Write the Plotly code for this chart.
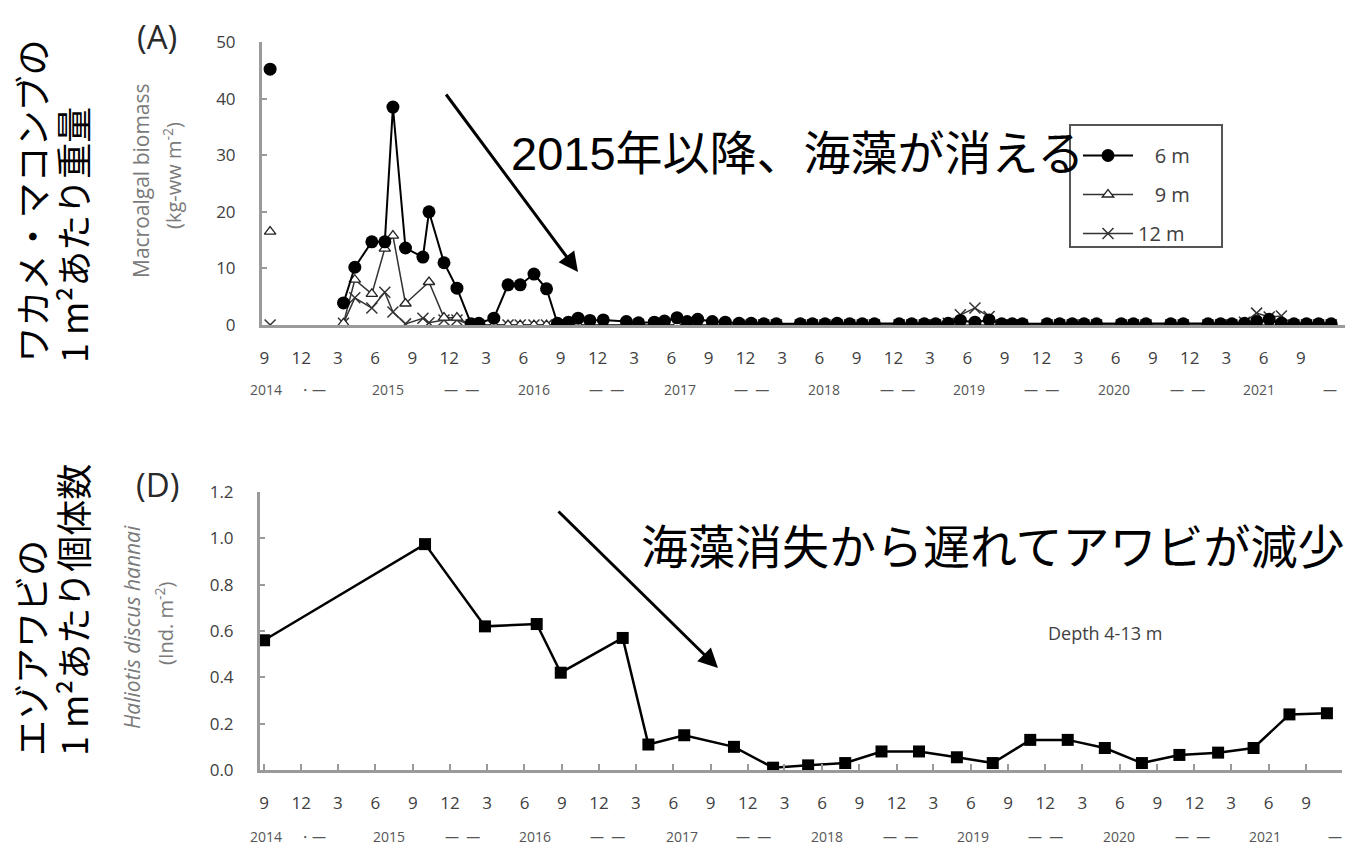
import pandas as pd
import plotly.graph_objects as go

# ---------------- (A) macroalgal biomass by depth ----------------
# first survey (Sep 2014), drawn unconnected to the later series
A_FIRST_DATE = ["2014-09-15"]
A_FIRST_6M = [45.2]
A_FIRST_9M = [16.5]
A_FIRST_12M = [0.0]

A_DATES = [
    "2015-03-15", "2015-04-12", "2015-05-24", "2015-06-25", "2015-07-15",
    "2015-08-15", "2015-09-27", "2015-10-12", "2015-11-18", "2015-12-20",
    "2016-01-24", "2016-02-12", "2016-03-20", "2016-04-24", "2016-05-24",
    "2016-06-27", "2016-07-28", "2016-08-24", "2016-09-20", "2016-10-14",
    "2016-11-12", "2016-12-15", "2017-02-10", "2017-03-12", "2017-04-20",
    "2017-05-15", "2017-06-15", "2017-07-10", "2017-08-05", "2017-09-10",
    "2017-10-12", "2017-11-15", "2017-12-15", "2018-01-15", "2018-02-15",
    "2018-04-15", "2018-05-15", "2018-06-15", "2018-07-15", "2018-08-15",
    "2018-09-15", "2018-10-15", "2018-12-15", "2019-01-15", "2019-02-15",
    "2019-03-15", "2019-04-15", "2019-05-15", "2019-06-20", "2019-07-25",
    "2019-08-25", "2019-09-20", "2019-10-15", "2019-12-15", "2020-01-15",
    "2020-02-15", "2020-03-15", "2020-04-15", "2020-06-15", "2020-07-15",
    "2020-08-15", "2020-10-15", "2020-11-15", "2021-01-15", "2021-02-15",
    "2021-03-15", "2021-04-15", "2021-05-15", "2021-06-15", "2021-07-15",
    "2021-08-15", "2021-09-15", "2021-10-15", "2021-11-15",
]
A_6M = [
    3.9, 10.2, 14.7, 14.7, 38.5,
    13.6, 12.0, 20.0, 11.0, 6.5,
    0.2, 0.3, 1.2, 7.1, 7.1,
    9.0, 6.4, 0.3, 0.5, 1.2,
    0.8, 0.9, 0.6, 0.4, 0.5,
    0.7, 1.3, 0.6, 1.0, 0.6,
    0.5, 0.3, 0.3, 0.2, 0.2,
    0.2, 0.2, 0.2, 0.3, 0.2,
    0.2, 0.2, 0.2, 0.2, 0.2,
    0.2, 0.3, 0.8, 0.5, 0.9,
    0.2, 0.2, 0.2, 0.2, 0.2,
    0.2, 0.2, 0.2, 0.2, 0.2,
    0.2, 0.2, 0.2, 0.2, 0.2,
    0.2, 0.3, 0.6, 1.0, 0.3,
    0.2, 0.2, 0.2, 0.2,
]
A_9M = [
    0.3, 8.0, 5.5, 13.5, 15.8,
    3.8, None, 7.6, 1.3, 1.3,
    0.0, 0.0, 0.0, 0.0, 0.0,
    0.0, 0.0, 0.0, 0.0, 0.0,
    0.0, 0.0, 0.0, 0.0, 0.0,
    0.0, 0.0, 0.0, 0.0, 0.0,
    0.0, 0.0, 0.0, 0.0, 0.0,
    0.0, 0.0, 0.0, 0.0, 0.0,
    0.0, 0.0, 0.0, 0.0, 0.0,
    0.0, 0.0, 0.0, 0.0, 0.0,
    0.0, 0.0, 0.0, 0.0, 0.0,
    0.0, 0.0, 0.0, 0.0, 0.0,
    0.0, 0.0, 0.0, 0.0, 0.0,
    0.0, 0.0, 0.0, 0.0, 0.0,
    0.0, 0.0, 0.0, 0.0,
]
A_12M = [
    0.3, 4.8, 3.0, 5.8, 2.3,
    0.2, 1.2, 0.4, 0.9, 0.9,
    0.0, 0.0, 0.0, 0.0, 0.0,
    0.0, 0.0, 0.0, 0.0, 0.0,
    0.0, 0.0, 0.0, 0.0, 0.0,
    0.0, 0.0, 0.0, 0.0, 0.0,
    0.0, 0.0, 0.0, 0.0, 0.0,
    0.0, 0.0, 0.0, 0.0, 0.0,
    0.0, 0.0, 0.0, 0.0, 0.0,
    0.0, 0.3, 1.8, 3.0, 1.5,
    0.0, 0.0, 0.0, 0.0, 0.0,
    0.0, 0.0, 0.0, 0.0, 0.0,
    0.0, 0.0, 0.0, 0.0, 0.0,
    0.0, 0.5, 2.1, 1.4, 1.6,
    0.0, 0.0, 0.0, 0.0,
]

# ---------------- (D) abalone density ----------------
D_DATES = [
    "2014-09-01", "2015-10-01", "2016-02-25", "2016-07-01", "2016-08-29",
    "2017-01-28", "2017-04-01", "2017-06-28", "2017-10-28", "2018-02-01",
    "2018-04-28", "2018-07-28", "2018-10-25", "2019-01-25", "2019-04-28",
    "2019-07-25", "2019-10-25", "2020-01-25", "2020-04-25", "2020-07-25",
    "2020-10-25", "2021-01-28", "2021-04-25", "2021-07-22", "2021-10-22",
]
D_DENSITY = [
    0.56, 0.975, 0.62, 0.63, 0.42,
    0.57, 0.11, 0.15, 0.10, 0.01,
    0.02, 0.03, 0.08, 0.08, 0.055,
    0.03, 0.13, 0.13, 0.095, 0.03,
    0.065, 0.075, 0.095, 0.24, 0.245,
]

# second row of the date axis (year captions)
YEAR_ROW_TEXT = ["2014", "・—", "2015", "—  —", "2016", "—  —", "2017", "—  —",
                 "2018", "—  —", "2019", "—  —", "2020", "—  —", "2021", "—"]
YEAR_ROW_DATE = ["2014-09-06", "2014-12-28", "2015-07-04", "2016-01-01",
                 "2016-06-28", "2016-12-22", "2017-06-22", "2017-12-16",
                 "2018-06-13", "2018-12-10", "2019-06-06", "2019-12-01",
                 "2020-05-29", "2020-11-25", "2021-05-22", "2021-11-12"]

MONTH_TICKS = pd.date_range("2014-09-01", "2021-09-01", freq="3MS")
MONTH_TEXT = [str(d.month) for d in MONTH_TICKS]

W, H = 1354, 851
LATIN = "Open Sans"
JP = "Noto Sans CJK JP"
TICK_GREY = "#404040"
AXIS_GREY = "#9a9a9a"
TITLE_GREY = "#7a7a7a"
SERIES_GREY = "#333333"


def fx(p):
    return p / W


def fy(p):
    return 1 - p / H


fig = go.Figure()

circle = dict(symbol="circle", size=13, color="black")
triangle = dict(symbol="triangle-up", size=10, color="white",
                line=dict(color="#222222", width=1.3))
cross = dict(symbol="x-thin-open", size=11, color=SERIES_GREY,
             line=dict(color=SERIES_GREY, width=1.5))

# (A) traces: 12 m and 9 m first so the 6 m circles sit on top
fig.add_trace(go.Scatter(
    x=A_DATES, y=A_12M, name="12 m", mode="lines+markers", connectgaps=True,
    line=dict(color=SERIES_GREY, width=1.5), marker=cross,
    legendgroup="g3", legendrank=3, xaxis="x", yaxis="y"))
fig.add_trace(go.Scatter(
    x=A_DATES, y=A_9M, name="\u2007 9 m", mode="lines+markers", connectgaps=True,
    line=dict(color=SERIES_GREY, width=1.5), marker=triangle,
    legendgroup="g2", legendrank=2, xaxis="x", yaxis="y"))
fig.add_trace(go.Scatter(
    x=A_DATES, y=A_6M, name="\u2007 6 m", mode="lines+markers", connectgaps=True,
    line=dict(color="black", width=2), marker=circle,
    legendgroup="g1", legendrank=1, xaxis="x", yaxis="y"))

for yv, mk in ((A_FIRST_12M, cross), (A_FIRST_9M, triangle), (A_FIRST_6M, circle)):
    fig.add_trace(go.Scatter(x=A_FIRST_DATE, y=yv, mode="markers", showlegend=False,
                             marker=mk, xaxis="x", yaxis="y"))

# (D) trace
fig.add_trace(go.Scatter(
    x=D_DATES, y=D_DENSITY, mode="lines+markers", showlegend=False,
    line=dict(color="black", width=2.5),
    marker=dict(symbol="square", size=12, color="black"),
    xaxis="x2", yaxis="y2"))

common_x = dict(
    type="date", tickmode="array", tickvals=MONTH_TICKS, ticktext=MONTH_TEXT,
    showgrid=False, zeroline=False, showline=True, linecolor=AXIS_GREY, linewidth=3,
    tickfont=dict(family=LATIN, size=17, color=TICK_GREY),
    ticklabelstandoff=16,
)
common_y = dict(
    showgrid=False, zeroline=False, showline=True, linecolor=AXIS_GREY, linewidth=3,
    ticks="inside", ticklen=5, tickwidth=2, tickcolor=AXIS_GREY,
    tickfont=dict(family=LATIN, size=17, color=TICK_GREY),
    ticklabelstandoff=20,
)

fig.update_layout(
    width=W, height=H,
    margin=dict(l=0, r=0, t=0, b=0, autoexpand=False),
    paper_bgcolor="white", plot_bgcolor="white",
    xaxis=dict(common_x, domain=[fx(262), fx(1345)],
               range=["2014-08-26", "2021-12-19"], ticks="", anchor="y"),
    yaxis=dict(common_y, domain=[fy(325), fy(42)], range=[0, 50],
               tickvals=[0, 10, 20, 30, 40, 50], anchor="x"),
    xaxis2=dict(common_x, domain=[fx(260), fx(1342)],
                range=["2014-08-22", "2021-11-28"], ticks="inside", ticklen=6,
                tickwidth=2, tickcolor=AXIS_GREY, anchor="y2"),
    yaxis2=dict(common_y, domain=[fy(770), fy(492)], range=[0, 1.2],
                tickvals=[0, 0.2, 0.4, 0.6, 0.8, 1.0, 1.2], tickformat=".1f",
                anchor="x2"),
    showlegend=True,
    legend=dict(
        x=fx(1078), y=fy(136), xanchor="left", yanchor="top",
        bgcolor="rgba(0,0,0,0)", borderwidth=0,
        font=dict(family=LATIN, size=20, color=TICK_GREY),
        itemwidth=50, traceorder="grouped", tracegroupgap=10,
    ),
    shapes=[dict(type="rect", xref="paper", yref="paper",
                 x0=fx(1070), x1=fx(1222), y0=fy(247), y1=fy(125),
                 line=dict(color="#555555", width=2), fillcolor="rgba(0,0,0,0)")],
)

ann = []
# year captions under both date axes
for txt, d in zip(YEAR_ROW_TEXT, YEAR_ROW_DATE):
    for xr, ypos in (("x", fy(389)), ("x2", fy(836))):
        ann.append(dict(text=txt, x=d, xref=xr, y=ypos,
                        font=dict(family=LATIN, size=14, color="#555555")))

# panel letters
for txt, yy in (("(A)", 36), ("(D)", 484)):
    ann.append(dict(text=txt, x=fx(157), y=fy(yy),
                    font=dict(family=LATIN, size=33, color="#2a2a2a")))

# axis titles (English, grey)
ann += [
    dict(text="Macroalgal biomass", x=fx(141), y=fy(181), textangle=-90,
         font=dict(family=LATIN, size=21, color=TITLE_GREY)),
    dict(text="(kg-ww m<sup>-2</sup>)", x=fx(173), y=fy(176), textangle=-90,
         font=dict(family=LATIN, size=20, color=TITLE_GREY)),
    dict(text="<i>Haliotis discus hannai</i>", x=fx(132), y=fy(627), textangle=-90,
         font=dict(family=LATIN, size=21, color=TITLE_GREY)),
    dict(text="(Ind. m<sup>-2</sup>)", x=fx(164), y=fy(624), textangle=-90,
         font=dict(family=LATIN, size=20, color=TITLE_GREY)),
]

# Japanese axis captions
for txt, xx, yb in (("ワカメ・マコンブの", 30, 365), ("1 m²あたり重量", 72, 365),
                    ("エゾアワビの", 30, 758), ("1 m²あたり個体数", 72, 758)):
    ann.append(dict(text=txt, x=fx(xx), y=fy(yb), textangle=-90,
                    yanchor="bottom",
                    font=dict(family=JP, size=36, color="black")))

# callouts
ann += [
    dict(text="2015年以降、海藻が消える", x=fx(797), y=fy(153),
         font=dict(family="Liberation Sans, " + JP, size=47, color="black")),
    dict(text="海藻消失から遅れてアワビが減少", x=fx(993), y=fy(543),
         font=dict(family=JP, size=47, color="black")),
    dict(text="Depth 4-13 m", x=fx(1105), y=fy(633),
         font=dict(family=LATIN, size=18, color=TICK_GREY)),
]
for a in ann:
    a.setdefault("xref", "paper")
    a.setdefault("yref", "paper")
    a.setdefault("xanchor", "center")
    a.setdefault("yanchor", "middle")
    a["showarrow"] = False

# arrows
for head, tail in (((578, 272), (445, 93)), ((718, 668), (557, 510))):
    ann.append(dict(text="", x=fx(head[0]), y=fy(head[1]), xref="paper", yref="paper",
                    ax=tail[0] - head[0], ay=tail[1] - head[1],
                    showarrow=True, arrowhead=2, arrowsize=1.3, arrowwidth=3,
                    arrowcolor="black"))

fig.update_layout(annotations=ann)
fig.write_html("out.html")
